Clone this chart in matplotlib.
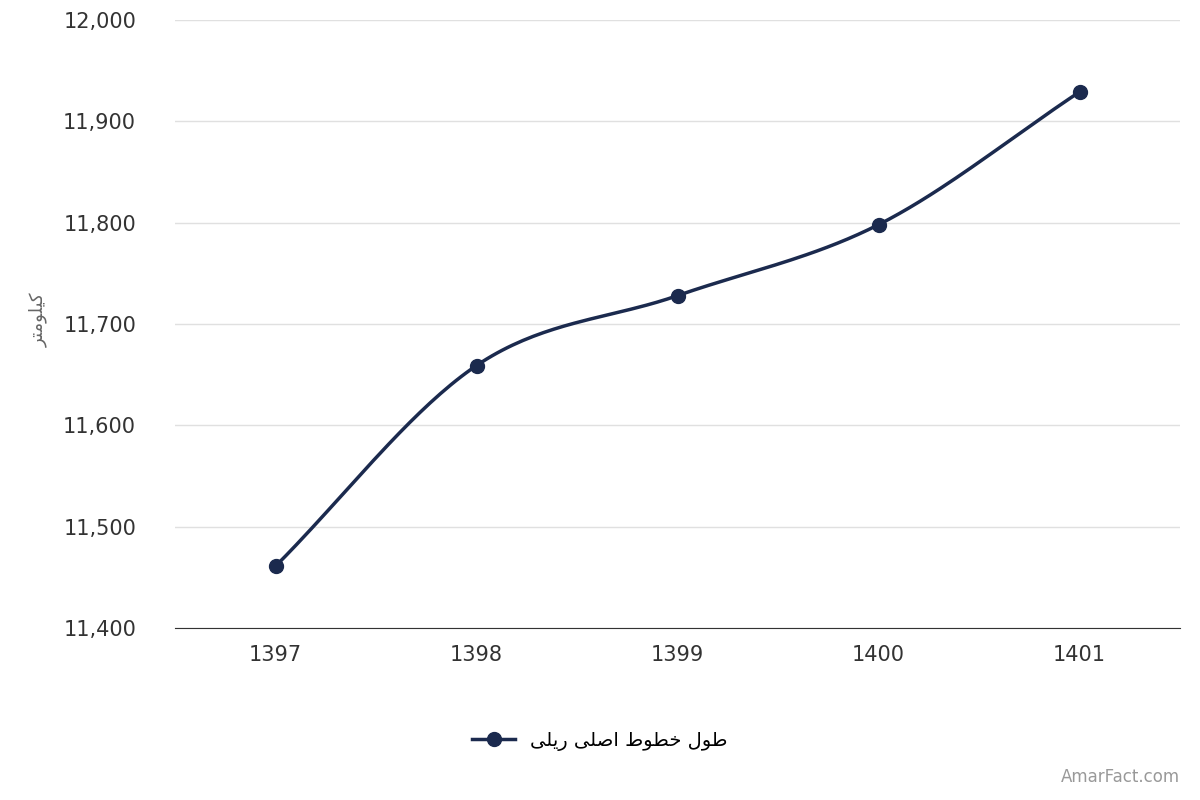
import matplotlib
matplotlib.use("Agg")
import matplotlib.pyplot as plt
import numpy as np

years = ["1397", "1398", "1399", "1400", "1401"]
values = [11461, 11659, 11728, 11798, 11929]

def shape(s):
    return s[::-1]

# presentation forms (logical order), reversed for LTR display
legend_label = shape("\uFEC3\uFEEE\uFEDD \uFEA7\uFEC4\uFEEE\uFEC1 \uFE8D\uFEBB\uFEE0\uFBFD \uFEAD\uFBFE\uFEE0\uFBFD")
ylabel = shape("\uFB90\uFBFF\uFEE0\uFEEE\uFEE3\uFE98\uFEAE")

color = "#1b2a4e"
fig = plt.figure(figsize=(12, 8), dpi=100)
ax = fig.add_axes([175/1200, 0.215, 1005/1200, 0.76])

x = np.arange(len(values), dtype=float)
y = np.array(values, dtype=float)
# Catmull-Rom smoothing for the line path
px = np.concatenate([[2*x[0]-x[1]], x, [2*x[-1]-x[-2]]])
py = np.concatenate([[2*y[0]-y[1]], y, [2*y[-1]-y[-2]]])
sx, sy = [], []
t = np.linspace(0, 1, 40)
for i in range(1, len(px)-2):
    for P, out in ((px, sx), (py, sy)):
        p0, p1, p2, p3 = P[i-1], P[i], P[i+1], P[i+2]
        out.extend(0.5*((2*p1) + (-p0+p2)*t + (2*p0-5*p1+4*p2-p3)*t**2 + (-p0+3*p1-3*p2+p3)*t**3))
ax.plot(sx, sy, color=color, lw=2.5)
ax.plot(x, y, "o", color=color, ms=10)

ax.set_xlim(-0.5, 4.5)
ax.set_ylim(11400, 12000)
ax.set_yticks(np.arange(11400, 12001, 100))
ax.yaxis.set_major_formatter(matplotlib.ticker.FuncFormatter(lambda v, p: f"{int(v):,}"))
ax.set_xticks(x)
ax.set_xticklabels(years)
ax.grid(axis="y", color="#e0e0e0", lw=1)
ax.set_axisbelow(True)
for s in ["top", "right", "left"]:
    ax.spines[s].set_visible(False)
ax.spines["bottom"].set_color("#333333")
ax.tick_params(length=0, labelsize=15, colors="#333333", pad=12)
ax.tick_params(axis="y", pad=28)
fig.text(0.032, 0.6, ylabel, rotation=90, ha="center", va="center", fontsize=13, color="#666666",
         family=["DejaVu Sans"])

from matplotlib.lines import Line2D
h = Line2D([], [], color=color, lw=2.5, marker="o", ms=10)
fig.legend([h], [legend_label], loc="center", bbox_to_anchor=(0.5, 0.074), frameon=False,
           fontsize=14, handlelength=2.2, prop={"family": ["DejaVu Sans"], "size": 14})
fig.text(0.983, 0.018, "AmarFact.com", ha="right", va="bottom", fontsize=12, color="#999999")
fig.savefig("out.png")
